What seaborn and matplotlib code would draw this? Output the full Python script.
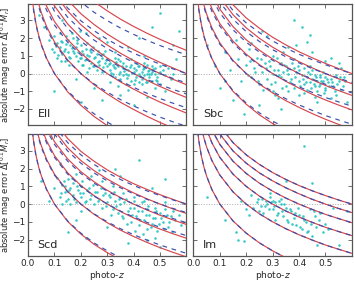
"""Absolute magnitude error vs photo-z, one panel per template."""
import matplotlib
matplotlib.use("Agg")
import matplotlib.pyplot as plt
import numpy as np
import pandas as pd
import seaborn as sns

# ---- data ------------------------------------------------------------------
CURVE_Z = [0.01, 0.02, 0.03, 0.04, 0.05, 0.07, 0.10, 0.15, 0.20, 0.25,
           0.30, 0.35, 0.40, 0.45, 0.50, 0.55, 0.60]

# Im: red and blue lie on top of each other
BASE_CURVES = [
    [5.14, 3.62, 2.72, 2.08, 1.58, 0.82, 0.00, -0.95, -1.64, -2.19, -2.64, -3.03, -3.37, -3.67, -3.95, -4.19, -4.42],
    [6.78, 5.26, 4.36, 3.72, 3.22, 2.46, 1.64, 0.69, 0.00, -0.55, -1.00, -1.39, -1.73, -2.03, -2.31, -2.55, -2.78],
    [7.78, 6.26, 5.36, 4.72, 4.22, 3.46, 2.64, 1.69, 1.00, 0.45, 0.00, -0.39, -0.73, -1.03, -1.31, -1.55, -1.78],
    [8.51, 6.99, 6.09, 5.45, 4.95, 4.19, 3.37, 2.42, 1.73, 1.18, 0.73, 0.34, 0.00, -0.30, -0.58, -0.82, -1.05],
    [9.09, 7.57, 6.67, 6.03, 5.53, 4.76, 3.95, 3.00, 2.31, 1.76, 1.31, 0.92, 0.58, 0.27, 0.00, -0.25, -0.48],
    [9.56, 8.04, 7.14, 6.50, 6.01, 5.24, 4.42, 3.47, 2.78, 2.24, 1.78, 1.39, 1.05, 0.75, 0.48, 0.23, 0.00],
]

ELL_RED = [
    [5.28, 3.74, 2.83, 2.17, 1.66, 0.87, 0.00, -1.03, -1.79, -2.42, -2.94, -3.41, -3.82, -4.20, -4.55, -4.87, -5.17],
    [7.07, 5.53, 4.62, 3.96, 3.45, 2.66, 1.79, 0.77, 0.00, -0.63, -1.15, -1.62, -2.03, -2.41, -2.76, -3.08, -3.38],
    [8.22, 6.68, 5.77, 5.11, 4.60, 3.81, 2.94, 1.92, 1.15, 0.53, 0.00, -0.47, -0.88, -1.26, -1.61, -1.93, -2.23],
    [9.10, 7.56, 6.65, 5.99, 5.48, 4.69, 3.82, 2.80, 2.03, 1.41, 0.88, 0.42, 0.00, -0.38, -0.73, -1.05, -1.35],
    [9.83, 8.29, 7.38, 6.72, 6.21, 5.41, 4.55, 3.53, 2.76, 2.14, 1.61, 1.15, 0.73, 0.35, 0.00, -0.33, -0.63],
    [10.45, 8.91, 8.00, 7.34, 6.84, 6.04, 5.17, 4.15, 3.38, 2.77, 2.23, 1.77, 1.35, 0.98, 0.63, 0.31, 0.00],
    [11.75, 10.22, 9.30, 8.65, 8.13, 7.34, 6.48, 5.45, 4.69, 4.06, 3.54, 3.07, 2.66, 2.28, 1.93, 1.61, 1.31],
]
ELL_BLUE = [
    [5.19, 3.66, 2.76, 2.11, 1.61, 0.84, 0.00, -0.98, -1.69, -2.27, -2.74, -3.16, -3.52, -3.85, -4.15, -4.42, -4.67],
    [6.88, 5.35, 4.45, 3.80, 3.30, 2.53, 1.69, 0.72, 0.00, -0.58, -1.05, -1.47, -1.83, -2.16, -2.46, -2.73, -2.98],
    [7.93, 6.40, 5.50, 4.85, 4.35, 3.58, 2.74, 1.77, 1.05, 0.48, 0.00, -0.42, -0.78, -1.11, -1.41, -1.68, -1.93],
    [8.71, 7.18, 6.28, 5.63, 5.13, 4.36, 3.52, 2.55, 1.83, 1.26, 0.78, 0.37, 0.00, -0.33, -0.63, -0.90, -1.15],
    [9.34, 7.81, 6.91, 6.26, 5.76, 4.98, 4.15, 3.18, 2.46, 1.89, 1.41, 1.00, 0.63, 0.30, 0.00, -0.28, -0.53],
    [9.86, 8.33, 7.43, 6.78, 6.29, 5.51, 4.67, 3.70, 2.98, 2.42, 1.93, 1.52, 1.15, 0.83, 0.53, 0.26, 0.00],
    [10.91, 9.39, 8.48, 7.84, 7.33, 6.56, 5.73, 4.75, 4.04, 3.46, 2.99, 2.57, 2.21, 1.88, 1.58, 1.31, 1.06],
]

SBC_RED = [
    [5.22, 3.69, 2.78, 2.13, 1.63, 0.85, 0.00, -1.00, -1.73, -2.33, -2.82, -3.26, -3.64, -3.99, -4.31, -4.60, -4.87],
    [6.95, 5.42, 4.51, 3.86, 3.36, 2.58, 1.73, 0.74, 0.00, -0.60, -1.09, -1.53, -1.91, -2.26, -2.58, -2.87, -3.14],
    [8.04, 6.51, 5.60, 4.95, 4.45, 3.67, 2.82, 1.83, 1.09, 0.50, 0.00, -0.44, -0.82, -1.17, -1.49, -1.78, -2.05],
    [8.86, 7.33, 6.42, 5.77, 5.27, 4.49, 3.64, 2.65, 1.91, 1.32, 0.82, 0.39, 0.00, -0.35, -0.67, -0.96, -1.23],
    [9.53, 8.00, 7.09, 6.44, 5.94, 5.15, 4.31, 3.32, 2.58, 1.99, 1.49, 1.06, 0.67, 0.32, 0.00, -0.30, -0.57],
    [10.09, 8.56, 7.65, 7.00, 6.51, 5.72, 4.87, 3.88, 3.14, 2.56, 2.05, 1.62, 1.23, 0.89, 0.57, 0.28, 0.00],
]
SBC_BLUE = [
    [5.16, 3.64, 2.73, 2.09, 1.59, 0.83, 0.00, -0.96, -1.66, -2.22, -2.68, -3.08, -3.43, -3.74, -4.03, -4.28, -4.52],
    [6.82, 5.30, 4.39, 3.75, 3.25, 2.49, 1.66, 0.70, 0.00, -0.56, -1.02, -1.42, -1.77, -2.08, -2.37, -2.62, -2.86],
    [7.84, 6.32, 5.41, 4.77, 4.27, 3.51, 2.68, 1.72, 1.02, 0.46, 0.00, -0.40, -0.75, -1.06, -1.35, -1.60, -1.84],
    [8.59, 7.07, 6.16, 5.52, 5.02, 4.26, 3.43, 2.47, 1.77, 1.21, 0.75, 0.35, 0.00, -0.31, -0.60, -0.85, -1.09],
    [9.19, 7.67, 6.76, 6.12, 5.62, 4.85, 4.03, 3.07, 2.37, 1.81, 1.35, 0.95, 0.60, 0.28, 0.00, -0.26, -0.50],
    [9.68, 8.16, 7.25, 6.61, 6.12, 5.35, 4.52, 3.56, 2.86, 2.31, 1.84, 1.44, 1.09, 0.78, 0.50, 0.24, 0.00],
]

SCD_RED = ELL_BLUE[:6]
SCD_BLUE = BASE_CURVES

ELL_Z = [0.08, 0.09, 0.10, 0.10, 0.11, 0.11, 0.12, 0.12, 0.13, 0.13, 0.14, 0.14, 0.15, 0.15, 0.16, 0.16,
         0.17, 0.17, 0.18, 0.18, 0.19, 0.19, 0.20, 0.20, 0.21, 0.21, 0.22, 0.22, 0.23, 0.23, 0.24, 0.24,
         0.25, 0.25, 0.26, 0.26, 0.27, 0.27, 0.28, 0.28, 0.29, 0.29, 0.30, 0.30, 0.31, 0.31, 0.32, 0.32,
         0.33, 0.33, 0.34, 0.34, 0.35, 0.35, 0.36, 0.36, 0.37, 0.37, 0.38, 0.38, 0.39, 0.39, 0.40, 0.40,
         0.41, 0.41, 0.42, 0.42, 0.43, 0.43, 0.44, 0.44, 0.45, 0.45, 0.46, 0.46, 0.47, 0.47, 0.48, 0.48,
         0.49, 0.50, 0.50, 0.51, 0.52, 0.53, 0.54, 0.55, 0.04, 0.06, 0.13, 0.22, 0.30, 0.38, 0.42, 0.47,
         0.50, 0.55, 0.57, 0.35, 0.40, 0.25, 0.18, 0.45, 0.52, 0.28, 0.20, 0.10, 0.33, 0.56, 0.44, 0.27,
         0.105, 0.115, 0.125, 0.135, 0.145, 0.155, 0.165, 0.175, 0.185, 0.195, 0.205, 0.215, 0.225, 0.235,
         0.245, 0.255, 0.265, 0.275, 0.285, 0.295, 0.305, 0.315, 0.325, 0.335, 0.345, 0.355, 0.365, 0.375,
         0.385, 0.395, 0.405, 0.415, 0.425, 0.435, 0.445, 0.455, 0.465, 0.475, 0.485, 0.495, 0.31, 0.33,
         0.35, 0.37, 0.39, 0.41, 0.43, 0.45, 0.47, 0.49, 0.36, 0.40, 0.44, 0.48, 0.52, 0.38, 0.42, 0.46,
         0.34, 0.50, 0.145, 0.165, 0.185, 0.125, 0.205, 0.225, 0.245, 0.265, 0.285, 0.225, 0.155, 0.195]
ELL_DM = [1.9, 1.4, 2.1, 1.2, 1.7, 0.9, 1.5, 2.3, 1.1, 1.8, 1.4, 0.7, 1.9, 1.2, 1.6, 0.9,
          1.3, 2.0, 1.0, 1.5, 0.7, 1.2, 1.6, 0.9, 1.1, 0.5, 1.4, 0.8, 1.0, 0.3, 1.2, 0.6,
          0.9, 0.4, 1.1, 0.2, 0.7, 0.5, 0.9, 0.1, 0.6, 1.3, 0.4, 0.8, 0.2, 0.6, 0.0, 0.5,
          0.3, -0.2, 0.4, 0.8, 0.1, -0.3, 0.3, 0.6, 0.0, 0.4, -0.1, 0.2, 0.5, -0.4, 0.1, 0.3,
          -0.2, 0.2, 0.0, 0.4, -0.3, 0.1, 0.3, -0.1, 0.0, -0.5, 0.2, -0.2, 0.1, -0.4, 0.0, 0.3,
          -0.2, 0.1, -0.6, 0.2, -0.1, 0.3, -0.3, 0.0, 3.3, 2.6, 3.0, 2.3, 1.8, 1.5, 2.0, 2.6,
          3.4, 1.6, 2.4, -1.2, -1.8, -0.8, -0.3, -1.3, -1.0, -1.5, -1.6, -1.0, 1.2, 0.8, 1.0, 2.0,
          1.55, 1.05, 1.85, 1.25, 1.65, 0.95, 1.45, 1.15, 1.75, 0.85, 1.25, 0.75, 1.05, 1.35,
          0.45, 0.95, 0.65, 1.05, 0.35, 0.75, 0.55, 0.05, 0.35, 0.65, -0.05, 0.45, 0.15, -0.25,
          0.35, 0.05, -0.35, 0.45, -0.15, 0.25, -0.45, 0.15, -0.05, 0.25, -0.35, 0.05, -0.5, 0.9,
          0.7, -0.6, 0.8, 0.6, -0.6, 0.5, 0.4, -0.4, -0.1, -0.6, 0.6, -0.8, 0.5, -0.9, -0.5, 0.0,
          -0.7, 0.4, 2.1, 2.3, 1.9, 0.7, 0.5, 1.7, 1.5, 1.3, 1.1, 0.1, 0.5, 2.4]

SBC_Z = [0.05, 0.08, 0.10, 0.12, 0.14, 0.15, 0.17, 0.18, 0.20, 0.21, 0.22, 0.23, 0.24, 0.25, 0.26, 0.27,
         0.28, 0.29, 0.30, 0.30, 0.31, 0.32, 0.33, 0.33, 0.34, 0.35, 0.35, 0.36, 0.37, 0.38, 0.38, 0.39,
         0.40, 0.40, 0.41, 0.42, 0.42, 0.43, 0.43, 0.44, 0.44, 0.45, 0.45, 0.46, 0.46, 0.47, 0.47, 0.48,
         0.48, 0.49, 0.49, 0.50, 0.50, 0.51, 0.52, 0.53, 0.54, 0.55, 0.56, 0.57, 0.28, 0.36, 0.41, 0.45,
         0.52, 0.25, 0.31, 0.19, 0.47, 0.55, 0.38, 0.43, 0.26, 0.33,
         0.205, 0.215, 0.235, 0.245, 0.255, 0.265, 0.275, 0.285, 0.295, 0.305, 0.315, 0.325, 0.335,
         0.345, 0.355, 0.365, 0.375, 0.385, 0.395, 0.405, 0.415, 0.425, 0.435, 0.445, 0.455, 0.465,
         0.475, 0.485, 0.495, 0.505, 0.515, 0.525, 0.535, 0.545, 0.555, 0.565, 0.575, 0.46, 0.48,
         0.50, 0.52, 0.44, 0.42, 0.40, 0.38, 0.36, 0.34, 0.54, 0.56, 0.32, 0.30, 0.12, 0.16, 0.22,
         0.58, 0.50, 0.44, 0.39]
SBC_DM = [1.6, 0.4, -0.8, 1.2, 0.2, -1.5, 0.8, -0.4, 0.5, 1.4, -0.2, 0.3, 0.9, -0.6, 0.1, 0.6,
          -0.3, 0.4, 0.0, 1.0, -0.5, 0.2, 0.6, -0.2, 0.1, -0.7, 0.4, 0.0, -0.3, 0.3, -0.8, 0.1,
          -0.4, 0.2, -0.1, -0.6, 0.3, -0.2, -0.9, 0.0, -0.5, -0.3, 0.2, -0.7, -0.1, -0.4, -1.0, -0.2,
          -0.6, 0.1, -0.4, -0.8, -0.2, -0.5, -0.3, -0.7, -0.1, -0.4, -0.9, -0.2, 2.1, 1.5, 2.6, 1.2,
          0.9, -1.8, -1.2, -2.3, -1.6, 0.6, 3.0, 1.8, 2.4, -2.0,
          -0.1, 0.7, 0.1, -0.4, 0.8, -0.9, 0.3, 0.7, -0.6, 0.2, 0.9, -0.1, -0.8,
          0.5, 0.2, -0.5, 0.6, -0.2, 0.4, -0.7, -0.3, -0.5, 0.1, -0.8, -0.6, -0.2,
          -0.7, -0.4, -1.1, -0.3, -0.7, -0.5, -1.0, -0.6, -0.2, -0.7, -0.4, -1.3, -0.1,
          -0.9, -1.4, 0.4, -1.1, -1.2, 0.8, -1.0, 1.2, -1.2, 0.3, -1.4, -1.0, -0.4, 1.9, 1.7,
          -1.6, 0.7, 2.2, 1.6]

SCD_Z = [0.05, 0.08, 0.10, 0.11, 0.12, 0.13, 0.13, 0.14, 0.15, 0.15, 0.16, 0.17, 0.17, 0.18, 0.19, 0.20,
         0.20, 0.21, 0.22, 0.23, 0.24, 0.25, 0.26, 0.27, 0.28, 0.29, 0.30, 0.31, 0.32, 0.33, 0.34, 0.35,
         0.36, 0.37, 0.38, 0.39, 0.40, 0.40, 0.41, 0.42, 0.43, 0.43, 0.44, 0.45, 0.45, 0.46, 0.47, 0.48,
         0.48, 0.49, 0.50, 0.51, 0.52, 0.53, 0.54, 0.55, 0.15, 0.22, 0.30, 0.38, 0.45, 0.50, 0.12, 0.27,
         0.35, 0.42, 0.52, 0.18, 0.33, 0.47,
         0.125, 0.135, 0.145, 0.155, 0.165, 0.175, 0.185, 0.195, 0.205, 0.215, 0.225, 0.235, 0.245,
         0.255, 0.265, 0.275, 0.285, 0.295, 0.14, 0.16, 0.305, 0.315, 0.325, 0.335, 0.345, 0.355,
         0.365, 0.375, 0.385, 0.395, 0.405, 0.415, 0.425, 0.435, 0.445, 0.455, 0.465, 0.475, 0.485,
         0.495, 0.505, 0.515, 0.525, 0.535, 0.545, 0.555, 0.57, 0.58, 0.18, 0.20, 0.24, 0.28, 0.32,
         0.36, 0.40, 0.44, 0.48, 0.52]
SCD_DM = [1.3, 0.2, 0.9, 1.5, 0.4, 1.1, 0.0, 0.7, 1.4, 0.3, 0.9, 0.5, 1.2, 0.1, 0.8, 0.4,
          1.0, 0.6, 0.2, 0.9, 0.5, 0.0, 0.7, 0.3, -0.2, 0.6, 0.1, 0.4, -0.3, 0.2, -0.5, 0.0,
          -0.8, 0.3, -0.4, -1.0, -0.2, 0.2, -0.7, -1.2, -0.4, 0.1, -0.9, -0.3, -1.4, -0.6, -1.1, -0.2,
          -0.8, -1.5, -0.5, -1.0, -0.3, -1.3, -0.7, -0.4, -1.6, -1.9, -1.3, -2.2, -2.0, -2.4, 2.3, 1.9,
          1.6, 2.5, 1.4, -0.9, 2.0, 0.9,
          0.6, 1.3, 0.2, 0.8, 1.5, 0.3, 1.0, 0.6, 1.3, 0.1, 0.8, 0.3, 1.1,
          0.7, 0.2, 0.9, 0.5, -0.1, 1.0, 0.0, 0.5, -0.6, 0.7, -0.1, 0.3, -0.7,
          0.1, -1.1, -0.2, -0.6, -1.5, -0.4, -0.9, -1.7, -0.6, -0.1, -1.3, -0.8, -0.4,
          -1.1, -0.8, -1.4, -0.6, -1.0, -1.6, -0.9, -0.6, -1.2, 1.7, -0.4, 1.6, 1.3, 1.0,
          0.6, 0.4, 0.2, -1.9, 0.1]

IM_Z = [0.05, 0.12, 0.16, 0.18, 0.20, 0.22, 0.24, 0.25, 0.26, 0.27, 0.28, 0.29, 0.30, 0.30, 0.31, 0.32,
        0.33, 0.33, 0.34, 0.35, 0.36, 0.37, 0.38, 0.39, 0.40, 0.41, 0.42, 0.43, 0.44, 0.45, 0.46, 0.48,
        0.50, 0.53, 0.55, 0.19, 0.35, 0.45, 0.58, 0.42,
        0.225, 0.245, 0.255, 0.265, 0.275, 0.285, 0.295, 0.305, 0.315, 0.325, 0.335, 0.345, 0.355,
        0.365, 0.375, 0.385, 0.395, 0.405, 0.415, 0.425, 0.435, 0.445, 0.455, 0.465, 0.475, 0.49,
        0.51, 0.29, 0.31, 0.17, 0.21, 0.47]
IM_DM = [0.4, -0.9, -1.6, 0.2, -0.3, 0.5, 0.1, -0.4, 0.3, -0.1, 0.0, 0.4, -0.3, 0.2, 0.1, -0.5,
         0.0, 0.3, -0.7, -0.2, -1.0, -0.4, -0.8, -1.2, -0.6, -1.4, -0.9, -1.6, -0.3, -1.8, -0.7, -0.5,
         -1.1, -0.2, -2.3, -2.1, 1.3, 1.2, -0.4, 3.3,
         -0.2, 0.3, -0.1, -0.5, 0.2, -0.3, 0.1, -0.1, -0.6, 0.2, -0.4, 0.0, -0.9,
         -0.3, -1.1, -0.5, -0.2, -1.3, -0.7, -1.0, -1.5, -1.1, -0.4, -1.3, -0.9, -1.6,
         -1.4, 0.6, -0.9, -2.0, -0.6, -2.3]

PANELS = ["Ell", "Sbc", "Scd", "Im"]
SCATTER = {"Ell": (ELL_Z, ELL_DM), "Sbc": (SBC_Z, SBC_DM),
           "Scd": (SCD_Z, SCD_DM), "Im": (IM_Z, IM_DM)}
RED_CURVES = {"Ell": ELL_RED, "Sbc": SBC_RED, "Scd": SCD_RED, "Im": BASE_CURVES}
BLUE_CURVES = {"Ell": ELL_BLUE, "Sbc": SBC_BLUE, "Scd": SCD_BLUE, "Im": BASE_CURVES}

RED = "#d6464f"
BLUE = "#3b4fae"
DOT = "#27c4c0"
SPINE = "#555555"

sns.set_style("ticks")
plt.rcParams["font.family"] = ["DejaVu Sans"]
plt.rcParams["mathtext.fontset"] = "dejavusans"

fig, axes = plt.subplots(2, 2, figsize=(3.55, 2.81), dpi=100, sharex=True, sharey=True)
fig.subplots_adjust(left=0.079, right=0.991, top=0.986, bottom=0.089,
                    wspace=0.044, hspace=0.074)

for ax, name in zip(axes.flat, PANELS):
    zs, dms = SCATTER[name]
    sns.scatterplot(x=zs, y=dms, ax=ax, color=DOT, s=3.5, linewidth=0,
                    alpha=0.9, zorder=2)
    for vals in RED_CURVES[name]:
        sns.lineplot(x=CURVE_Z, y=vals, ax=ax, sort=False, estimator=None,
                     color=RED, lw=0.85, zorder=3)
    for vals in BLUE_CURVES[name]:
        sns.lineplot(x=CURVE_Z, y=vals, ax=ax, sort=False, estimator=None,
                     color=BLUE, lw=0.85, ls=(0, (4, 4)), zorder=4)
    ax.axhline(0, color="#aaaaaa", lw=0.7, ls=":", zorder=1)

    ax.set_xlim(0, 0.6)
    ax.set_ylim(-2.93, 3.93)
    ax.set_xticks([0.0, 0.1, 0.2, 0.3, 0.4, 0.5])
    ax.set_yticks([-2, -1, 0, 1, 2, 3])
    ax.tick_params(direction="in", top=True, right=True, length=3, width=0.6,
                   color=SPINE, labelsize=6.5, pad=2)
    for sp in ax.spines.values():
        sp.set_color(SPINE)
        sp.set_linewidth(0.9)
    ax.text(0.06, 0.05, name, transform=ax.transAxes, fontsize=8,
            ha="left", va="bottom")
    ax.set_xlabel("")
    ax.set_ylabel("")

for ax in axes[:, 0]:
    ax.set_ylabel(r"absolute mag error $\Delta[{}^{0.1}M_r]$", fontsize=6.0)
    ax.yaxis.set_label_coords(-0.095, 0.5)
for ax in axes[1, :]:
    ax.set_xlabel(r"photo-$z$", fontsize=6.5, labelpad=1)
    ax.set_xticklabels(["0.0", "0.1", "0.2", "0.3", "0.4", "0.5"])

fig.savefig("out.png", dpi=100)
